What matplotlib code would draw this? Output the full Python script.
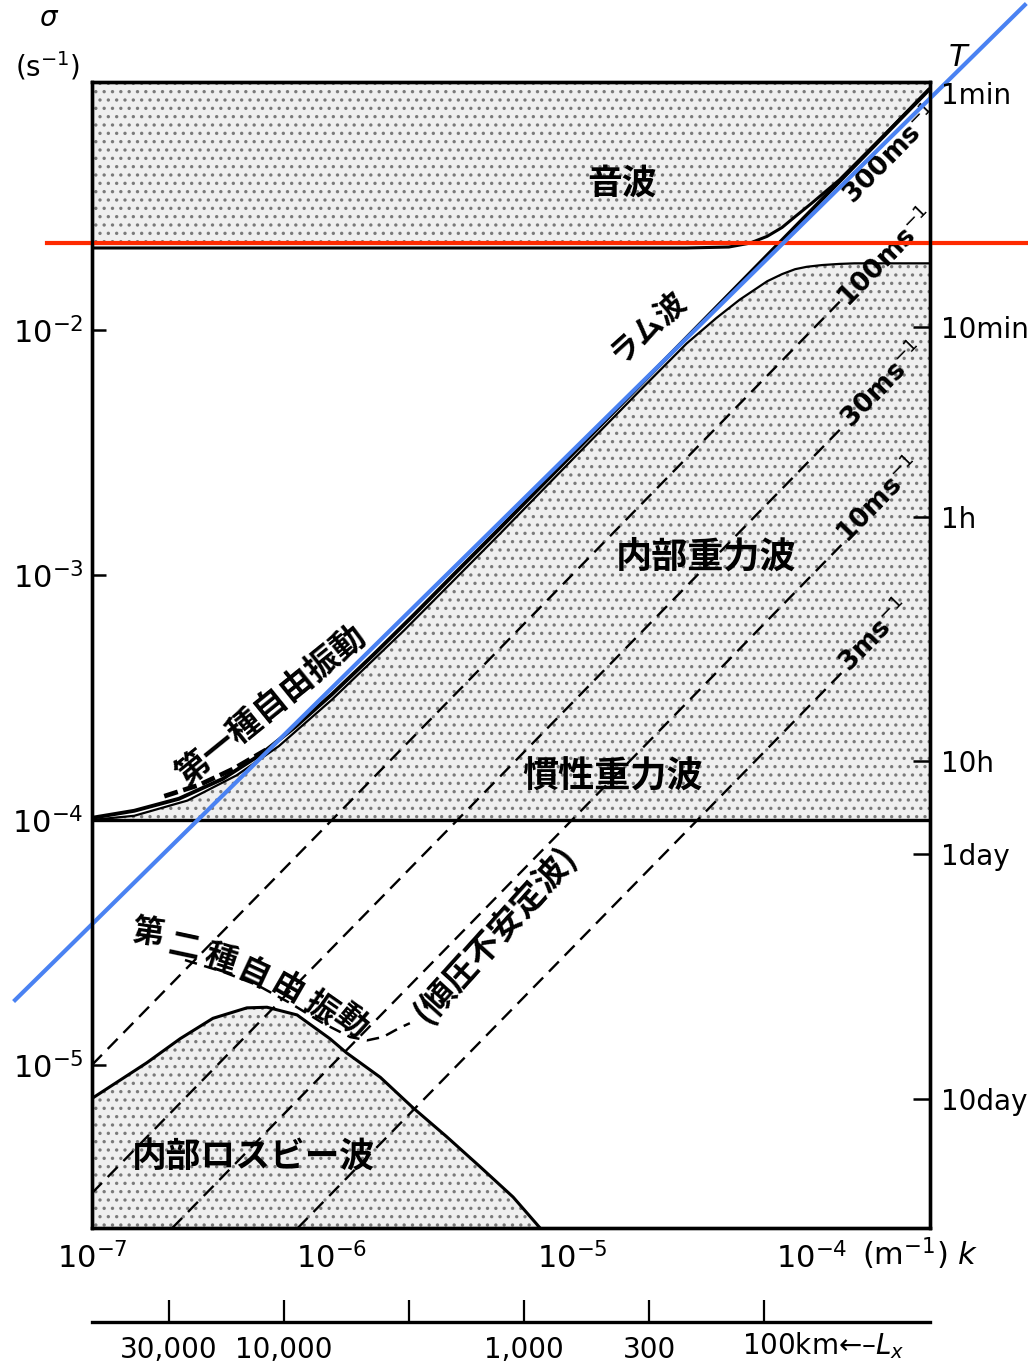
import numpy as np
import matplotlib
matplotlib.use("Agg")
import matplotlib.pyplot as plt
from matplotlib.ticker import NullLocator

plt.rcParams['font.family'] = ['DejaVu Sans', 'Noto Sans CJK JP']
plt.rcParams['mathtext.fontset'] = 'dejavusans'
plt.rcParams['hatch.color'] = '#7a7a7a'
plt.rcParams['hatch.linewidth'] = 1.2

CJK = ['Noto Sans CJK JP', 'DejaVu Sans']

# ---- axis ranges: wavenumber k (m^-1), frequency sigma (s^-1) ----
k_lim = (1.0e-7, 3.1e-4)
s_lim = (2.16e-6, 0.1028)

f_inertial = 1.0e-4          # inertial (Coriolis) frequency

# Lamb wave
lamb_k = [1.0e-7, 1.5e-7, 2.3e-7, 3.5e-7, 5.0e-7, 7.0e-7, 1.0e-6, 1.5e-6,
          2.2e-6, 3.3e-6, 5.0e-6, 1.0e-5, 3.0e-5, 1.0e-4, 3.05e-4]
lamb_s = [1.02e-4, 1.09e-4, 1.22e-4, 1.47e-4, 1.84e-4, 2.39e-4, 3.26e-4, 4.76e-4,
          6.89e-4, 1.03e-3, 1.55e-3, 3.1e-3, 9.3e-3, 3.1e-2, 9.5e-2]

# upper edge of the internal gravity wave band
grav_k = [1.0e-7, 1.5e-7, 2.5e-7, 4.0e-7, 6.0e-7, 1.0e-6, 2.0e-6, 5.0e-6, 1.0e-5,
          2.0e-5, 3.0e-5, 4.0e-5, 5.0e-5, 6.5e-5, 7.5e-5, 8.5e-5, 9.5e-5, 1.1e-4,
          1.3e-4, 1.5e-4, 3.1e-4]
grav_s = [1.0e-4, 1.04e-4, 1.2e-4, 1.52e-4, 2.0e-4, 3.1e-4, 5.95e-4, 1.47e-3, 2.95e-3,
          5.9e-3, 8.8e-3, 1.12e-2, 1.33e-2, 1.58e-2, 1.69e-2, 1.77e-2, 1.81e-2, 1.84e-2,
          1.86e-2, 1.87e-2, 1.87e-2]

# lower edge of the acoustic wave band
sound_k = [1.0e-7, 3.0e-5, 4.5e-5, 5.5e-5, 6.5e-5, 7.5e-5, 8.5e-5, 1.0e-4,
           1.3e-4, 2.0e-4, 3.1e-4]
sound_s = [0.0216, 0.0216, 0.0218, 0.0226, 0.0241, 0.0262, 0.029, 0.033,
           0.041, 0.0625, 0.097]

# internal Rossby waves
rossby_k = [1.0e-7, 1.69e-7, 2.33e-7, 3.19e-7, 4.42e-7, 5.36e-7, 7.15e-7, 9.8e-7,
            1.15e-6, 1.59e-6, 2.17e-6, 3.0e-6, 4.14e-6, 5.68e-6, 7.36e-6]
rossby_s = [7.3e-6, 1.02e-5, 1.28e-5, 1.55e-5, 1.71e-5, 1.72e-5, 1.6e-5, 1.28e-5,
            1.12e-5, 8.9e-6, 6.7e-6, 5.1e-6, 3.84e-6, 2.89e-6, 2.16e-6]

# free oscillations of the first and second kind
first_k = [2.0e-7, 2.8e-7, 3.9e-7, 5.3e-7]
first_s = [1.25e-4, 1.39e-4, 1.62e-4, 1.93e-4]
second_k = [2.44e-7, 3.51e-7, 4.87e-7, 6.68e-7, 9.17e-7, 1.19e-6, 1.40e-6,
            1.63e-6, 1.92e-6, 2.11e-6]
second_s = [2.68e-5, 2.40e-5, 2.12e-5, 1.79e-5, 1.48e-5, 1.30e-5, 1.26e-5,
            1.30e-5, 1.42e-5, 1.48e-5]

# phase speed lines sigma = c k (m/s)
phase_speeds = [100, 30, 10, 3]
speed_line_end_k = 1.35e-4
speed_label_text = ['300ms$^{-1}$', '100ms$^{-1}$', '30ms$^{-1}$', '10ms$^{-1}$', '3ms$^{-1}$']
speed_label_k = [2.14e-4, 2.05e-4, 1.98e-4, 1.91e-4, 1.83e-4]
speed_label_s = [0.0518, 0.0197, 5.96e-3, 2.02e-3, 5.64e-4]

# axis ticks
k_ticks = [1e-7, 1e-6, 1e-5, 1e-4]
k_tick_labels = ['$10^{-7}$', '$10^{-6}$', '$10^{-5}$', '$10^{-4}$']
s_ticks = [1e-5, 1e-4, 1e-3, 1e-2]
s_tick_labels = ['$10^{-5}$', '$10^{-4}$', '$10^{-3}$', '$10^{-2}$']
period_s = [60, 600, 3600, 36000, 86400, 864000]
period_labels = ['1min', '10min', '1h', '10h', '1day', '10day']
lx_km = [30000, 10000, 3000, 1000, 300, 100]
lx_labels = ['30,000', '10,000', '', '1,000', '300', '']

# ---- figure ----
W, H = 1028, 1367
fig = plt.figure(figsize=(W / 100, H / 100), dpi=100)
L, R = 92 / W, 930 / W
B, T = 1 - 1228 / H, 1 - 82 / H
ax = fig.add_axes([L, B, R - L, T - B])
ax.set_xscale('log')
ax.set_yscale('log')
ax.set_xlim(*k_lim)
ax.set_ylim(*s_lim)

# stippled wave bands
stip = dict(facecolor='#efefef', edgecolor='#7a7a7a', hatch='..', linewidth=0, zorder=1)
ax.fill_between(sound_k, sound_s, s_lim[1], **stip)
ax.fill_between(grav_k, f_inertial, grav_s, **stip)
ax.fill_between(rossby_k, s_lim[0], rossby_s, **stip)

# boundaries and dispersion curves
ax.plot(sound_k, sound_s, color='k', lw=2.2, zorder=4)
ax.plot(lamb_k, lamb_s, color='k', lw=2.8, zorder=4)
ax.plot(grav_k, grav_s, color='k', lw=1.6, zorder=4)
ax.axhline(f_inertial, color='k', lw=2.4, zorder=4)
ax.plot(rossby_k, rossby_s, color='k', lw=2.2, zorder=4)
ax.plot(first_k, first_s, color='k', lw=3.4, ls=(0, (3, 1.2)), zorder=4)
ax.plot(second_k, second_s, color='k', lw=1.8, ls=(0, (5, 3)), zorder=4)

for c in phase_speeds:
    k0 = max(k_lim[0], s_lim[0] / c)
    ks = np.array([k0, speed_line_end_k])
    ax.plot(ks, c * ks, color='k', lw=1.7, ls=(0, (6, 3.5)), zorder=3)

# screen angle of a sigma ~ k line
x_dec = (R - L) * W / np.log10(k_lim[1] / k_lim[0])
y_dec = (T - B) * H / np.log10(s_lim[1] / s_lim[0])
diag = np.degrees(np.arctan2(y_dec, x_dec))

for txt, kx, sy in zip(speed_label_text, speed_label_k, speed_label_s):
    ax.text(kx, sy, txt, rotation=diag, rotation_mode='anchor', ha='center', va='center',
            fontsize=19, fontweight='bold', zorder=6)

# region names
ax.text(1.62e-5, 0.0398, '音波', family=CJK, fontsize=25, fontweight='bold',
        ha='center', va='center', zorder=6)
ax.text(2.05e-5, 0.0103, 'ラム波', family=CJK, fontsize=22, fontweight='bold',
        ha='center', va='center', rotation=42, rotation_mode='anchor', zorder=6)
ax.text(3.61e-5, 1.18e-3, '内部重力波', family=CJK, fontsize=26, fontweight='bold',
        ha='center', va='center', zorder=6)
ax.text(1.47e-5, 1.50e-4, '慣性重力波', family=CJK, fontsize=26, fontweight='bold',
        ha='center', va='center', zorder=6)
ax.text(4.73e-7, 4.21e-6, '内部ロスビー波', family=CJK, fontsize=25, fontweight='bold',
        ha='center', va='center', zorder=6)
ax.text(4.78e-6, 3.40e-5, '(傾圧不安定波)', family=CJK, fontsize=24, fontweight='bold',
        ha='center', va='center', rotation=48, rotation_mode='anchor', zorder=6)
ax.text(5.62e-7, 2.89e-4, '第一種自由振動', family=CJK, fontsize=24, fontweight='bold',
        ha='center', va='center', rotation=39, rotation_mode='anchor', zorder=6)

second_chars = ['第', '二', '種', '自', '由', '振', '動']
second_char_k = [1.71e-7, 2.42e-7, 3.41e-7, 4.69e-7, 6.5e-7, 8.91e-7, 1.19e-6]
second_char_s = [3.46e-5, 3.03e-5, 2.69e-5, 2.33e-5, 2.04e-5, 1.71e-5, 1.50e-5]
second_char_rot = [-8, -12, -18, -25, -30, -35, -40]
for ch, kx, sy, rot in zip(second_chars, second_char_k, second_char_s, second_char_rot):
    ax.text(kx, sy, ch, family=CJK, fontsize=23, fontweight='bold', ha='center',
            va='center', rotation=rot, rotation_mode='anchor', zorder=6)

# left / bottom axes
ax.set_xticks(k_ticks, labels=k_tick_labels)
ax.set_yticks(s_ticks, labels=s_tick_labels)
ax.xaxis.set_minor_locator(NullLocator())
ax.yaxis.set_minor_locator(NullLocator())
ax.tick_params(axis='x', length=0, pad=10, labelsize=22)
ax.tick_params(axis='y', direction='in', length=10, width=1.8, pad=6, labelsize=22)
for sp in ax.spines.values():
    sp.set_linewidth(2.4)

# period axis on the right
axr = ax.twinx()
axr.set_yscale('log')
axr.set_ylim(*s_lim)
axr.set_yticks([2 * np.pi / t for t in period_s], labels=period_labels)
axr.yaxis.set_minor_locator(NullLocator())
axr.tick_params(axis='y', direction='in', length=12, width=1.8, pad=8, labelsize=20)
for sp in axr.spines.values():
    sp.set_linewidth(2.4)
axr.get_yticklabels()[0].set_verticalalignment('top')

# horizontal wavelength axis
axl = fig.add_axes([L, 1 - 1322 / H, R - L, 1e-6])
axl.set_xscale('log')
axl.set_xlim(*k_lim)
axl.set_xticks([2 * np.pi / (lx * 1e3) for lx in lx_km], labels=lx_labels)
axl.xaxis.set_minor_locator(NullLocator())
axl.set_yticks([])
for s in ['top', 'left', 'right']:
    axl.spines[s].set_visible(False)
axl.spines['bottom'].set_linewidth(2.4)
axl.patch.set_visible(False)
axl.tick_params(axis='x', direction='in', length=16, width=1.6, pad=10, labelsize=20)

# axis titles
fig.text(48 / W, 1 - 18 / H, 'σ', fontsize=20, style='italic', ha='center', va='center')
fig.text(48 / W, 1 - 66 / H, '(s$^{-1}$)', fontsize=20, ha='center', va='center')
fig.text(958 / W, 1 - 58 / H, 'T', fontsize=22, style='italic', ha='center', va='center')
fig.text(862 / W, 1 - 1254 / H, '(m$^{-1}$) $k$', fontsize=22, ha='left', va='center')
fig.text(742 / W, 1 - 1346 / H, '100km←–$L_x$', fontsize=20, ha='left', va='center')

# highlight lines drawn over the diagram
ax.plot([6.5e-8, 8.0e-4], [0.0226, 0.0226], color='#ff2a00', lw=3.0, clip_on=False, zorder=20)
ax.plot([4.78e-8, 7.7e-4], [1.84e-5, 0.212], color='#4a82f2', lw=3.0, clip_on=False, zorder=21)

fig.savefig('out.png', dpi=100)
